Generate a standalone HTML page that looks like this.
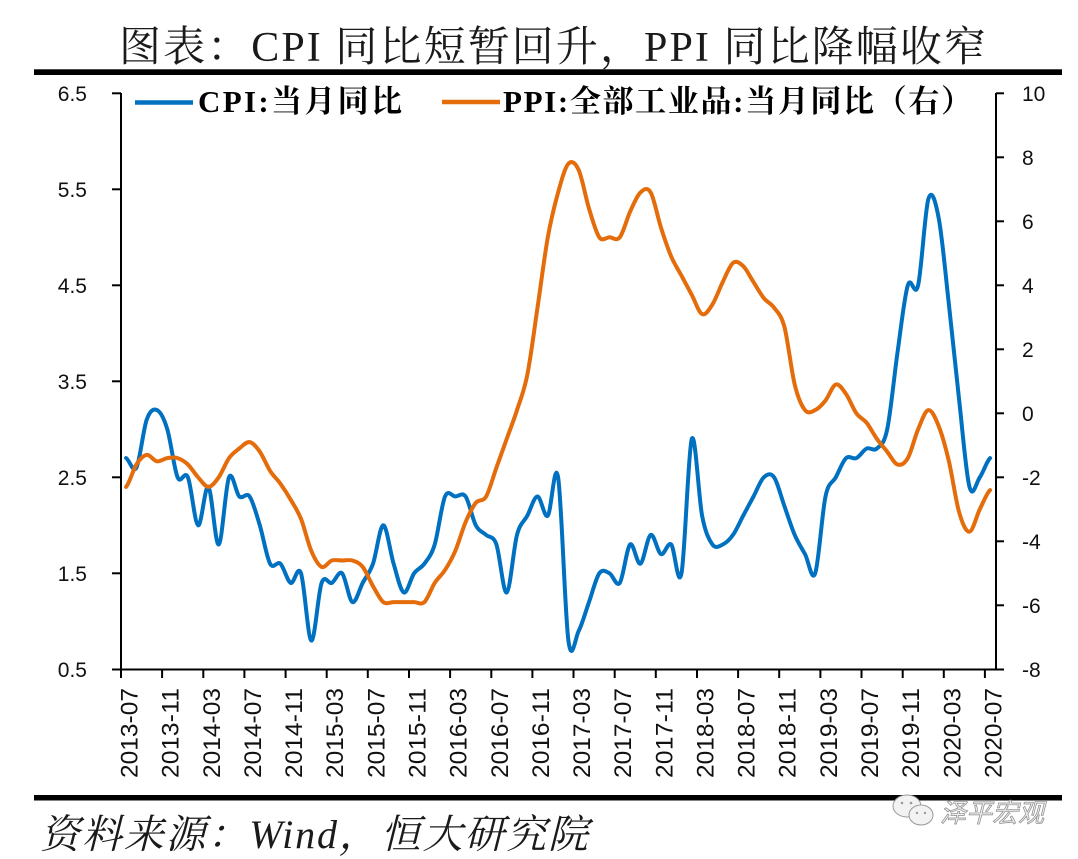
<!DOCTYPE html>
<html>
<head>
<meta charset="utf-8">
<style>
html,body{margin:0;padding:0;background:#fff;}
svg{display:block;}
.ax{font-family:"Liberation Sans","DejaVu Sans",sans-serif;font-size:21px;fill:#111;}
.xl{font-family:"Liberation Sans","DejaVu Sans",sans-serif;font-size:24.5px;fill:#111;}
</style>
</head>
<body>
<svg width="1078" height="859" viewBox="0 0 1078 859" xmlns="http://www.w3.org/2000/svg">
<rect x="0" y="0" width="1078" height="859" fill="#fff"/>

<!-- Title -->
<text x="119" y="61" font-family="'Liberation Serif','Noto Serif CJK SC',serif" font-size="42" fill="#1a1a1a" textLength="867">图表：CPI 同比短暂回升，PPI 同比降幅收窄</text>
<rect x="34" y="69.3" width="1028" height="5.7" fill="#000"/>

<!-- Legend -->
<line x1="135" y1="102.5" x2="193" y2="102.5" stroke="#0070C0" stroke-width="4.5"/>
<text x="198" y="112" font-family="'Liberation Serif','Noto Serif CJK SC',serif" font-size="31" font-weight="bold" fill="#000" textLength="204">CPI:当月同比</text>
<line x1="442" y1="102" x2="500" y2="102" stroke="#E46C0A" stroke-width="4.5"/>
<text x="503" y="112" font-family="'Liberation Serif','Noto Serif CJK SC',serif" font-size="31" font-weight="bold" fill="#000" textLength="469">PPI:全部工业品:当月同比（右）</text>

<!-- Axes -->
<g stroke="#000" stroke-width="2" fill="none">
<line x1="121" y1="93" x2="121" y2="670"/>
<line x1="996" y1="93" x2="996" y2="670"/>
<line x1="112" y1="669.5" x2="1004" y2="669.5"/>
<!-- left ticks -->
<line x1="112" y1="93.3" x2="121" y2="93.3"/>
<line x1="112" y1="189.3" x2="121" y2="189.3"/>
<line x1="112" y1="285.3" x2="121" y2="285.3"/>
<line x1="112" y1="381.3" x2="121" y2="381.3"/>
<line x1="112" y1="477.3" x2="121" y2="477.3"/>
<line x1="112" y1="573.3" x2="121" y2="573.3"/>
<!-- right ticks -->
<line x1="996" y1="93.3" x2="1004" y2="93.3"/>
<line x1="996" y1="157.3" x2="1004" y2="157.3"/>
<line x1="996" y1="221.3" x2="1004" y2="221.3"/>
<line x1="996" y1="285.3" x2="1004" y2="285.3"/>
<line x1="996" y1="349.3" x2="1004" y2="349.3"/>
<line x1="996" y1="413.3" x2="1004" y2="413.3"/>
<line x1="996" y1="477.3" x2="1004" y2="477.3"/>
<line x1="996" y1="541.3" x2="1004" y2="541.3"/>
<line x1="996" y1="605.3" x2="1004" y2="605.3"/>
<!-- x ticks -->
<line x1="121" y1="669" x2="121" y2="678"/>
<line x1="162.1" y1="669" x2="162.1" y2="678"/>
<line x1="203.3" y1="669" x2="203.3" y2="678"/>
<line x1="244.4" y1="669" x2="244.4" y2="678"/>
<line x1="285.6" y1="669" x2="285.6" y2="678"/>
<line x1="326.7" y1="669" x2="326.7" y2="678"/>
<line x1="367.8" y1="669" x2="367.8" y2="678"/>
<line x1="409" y1="669" x2="409" y2="678"/>
<line x1="450.1" y1="669" x2="450.1" y2="678"/>
<line x1="491.3" y1="669" x2="491.3" y2="678"/>
<line x1="532.4" y1="669" x2="532.4" y2="678"/>
<line x1="573.5" y1="669" x2="573.5" y2="678"/>
<line x1="614.7" y1="669" x2="614.7" y2="678"/>
<line x1="655.8" y1="669" x2="655.8" y2="678"/>
<line x1="697" y1="669" x2="697" y2="678"/>
<line x1="738.1" y1="669" x2="738.1" y2="678"/>
<line x1="779.2" y1="669" x2="779.2" y2="678"/>
<line x1="820.4" y1="669" x2="820.4" y2="678"/>
<line x1="861.5" y1="669" x2="861.5" y2="678"/>
<line x1="902.7" y1="669" x2="902.7" y2="678"/>
<line x1="943.8" y1="669" x2="943.8" y2="678"/>
<line x1="984.9" y1="669" x2="984.9" y2="678"/>
</g>

<!-- Left labels -->
<g class="ax" text-anchor="end">
<text x="87" y="101">6.5</text>
<text x="87" y="197">5.5</text>
<text x="87" y="293">4.5</text>
<text x="87" y="389">3.5</text>
<text x="87" y="485">2.5</text>
<text x="87" y="581">1.5</text>
<text x="87" y="677">0.5</text>
</g>
<!-- Right labels -->
<g class="ax" text-anchor="start">
<text x="1022" y="101">10</text>
<text x="1022" y="165">8</text>
<text x="1022" y="229">6</text>
<text x="1022" y="293">4</text>
<text x="1022" y="357">2</text>
<text x="1022" y="421">0</text>
<text x="1022" y="485">-2</text>
<text x="1022" y="549">-4</text>
<text x="1022" y="613">-6</text>
<text x="1022" y="677">-8</text>
</g>

<!-- X labels -->
<g class="xl">
<text transform="translate(137.5,778) rotate(-90)" textLength="90">2013-07</text>
<text transform="translate(178.6,778) rotate(-90)" textLength="90">2013-11</text>
<text transform="translate(219.8,778) rotate(-90)" textLength="90">2014-03</text>
<text transform="translate(260.9,778) rotate(-90)" textLength="90">2014-07</text>
<text transform="translate(302.1,778) rotate(-90)" textLength="90">2014-11</text>
<text transform="translate(343.2,778) rotate(-90)" textLength="90">2015-03</text>
<text transform="translate(384.3,778) rotate(-90)" textLength="90">2015-07</text>
<text transform="translate(425.5,778) rotate(-90)" textLength="90">2015-11</text>
<text transform="translate(466.6,778) rotate(-90)" textLength="90">2016-03</text>
<text transform="translate(507.8,778) rotate(-90)" textLength="90">2016-07</text>
<text transform="translate(548.9,778) rotate(-90)" textLength="90">2016-11</text>
<text transform="translate(590,778) rotate(-90)" textLength="90">2017-03</text>
<text transform="translate(631.2,778) rotate(-90)" textLength="90">2017-07</text>
<text transform="translate(672.3,778) rotate(-90)" textLength="90">2017-11</text>
<text transform="translate(713.5,778) rotate(-90)" textLength="90">2018-03</text>
<text transform="translate(754.6,778) rotate(-90)" textLength="90">2018-07</text>
<text transform="translate(795.7,778) rotate(-90)" textLength="90">2018-11</text>
<text transform="translate(836.9,778) rotate(-90)" textLength="90">2019-03</text>
<text transform="translate(878,778) rotate(-90)" textLength="90">2019-07</text>
<text transform="translate(919.2,778) rotate(-90)" textLength="90">2019-11</text>
<text transform="translate(960.3,778) rotate(-90)" textLength="90">2020-03</text>
<text transform="translate(1001.4,778) rotate(-90)" textLength="90">2020-07</text>
</g>

<!-- CPI series -->
<path fill="none" stroke="#0070C0" stroke-width="4" stroke-linejoin="round" stroke-linecap="round" d="M126.1,458.1 C129.5,459.7 133.0,474.1 136.4,467.7
S143.3,429.3 146.7,419.7 S153.6,408.5 157.0,410.1 S163.9,418.1 167.3,429.3 S174.2,469.3 177.6,477.3
S184.5,469.3 187.9,477.3 S194.7,523.7 198.1,525.3 S205.0,483.7 208.4,486.9 S215.3,546.1 218.7,544.5
S225.6,485.3 229.0,477.3 S235.9,493.3 239.3,496.5 S246.2,491.7 249.6,496.5 S256.4,514.1 259.8,525.3
S266.7,557.3 270.1,563.7 S277.0,560.5 280.4,563.7 S287.3,581.3 290.7,582.9 S297.6,563.7 301.0,573.3
S307.9,638.9 311.3,640.5 S318.2,592.5 321.6,582.9 S328.4,584.5 331.8,582.9 S338.7,570.1 342.1,573.3
S349.0,600.5 352.4,602.1 S359.3,589.3 362.7,582.9 S369.6,573.3 373.0,563.7 S379.9,525.3 383.3,525.3
S390.2,552.5 393.6,563.7 S400.4,590.9 403.8,592.5 S410.7,578.1 414.1,573.3 S421.0,568.5 424.4,563.7
S431.3,555.7 434.7,544.5 S441.6,504.5 445.0,496.5 S451.9,496.5 455.3,496.5 S462.2,491.7 465.6,496.5
S472.4,518.9 475.8,525.3 S482.7,531.7 486.1,534.9 S493.0,534.9 496.4,544.5 S503.3,594.1 506.7,592.5
S513.6,547.7 517.0,534.9 S523.9,522.1 527.3,515.7 S534.1,496.5 537.5,496.5 S544.4,518.9 547.8,515.7
S554.7,456.5 558.1,477.3 S565.0,614.9 568.4,640.5 S575.3,637.3 578.7,630.9 S585.6,611.7 589.0,602.1
S595.9,578.1 599.3,573.3 S606.1,571.7 609.5,573.3 S616.4,587.7 619.8,582.9 S626.7,547.7 630.1,544.5
S637.0,565.3 640.4,563.7 S647.3,536.5 650.7,534.9 S657.6,552.5 661.0,554.1 S667.8,541.3 671.2,544.5
S678.1,590.9 681.5,573.3 S688.4,448.5 691.8,438.9 S698.7,498.1 702.1,515.7 S709.0,539.7 712.4,544.5
S719.3,546.1 722.7,544.5 S729.6,539.7 733.0,534.9 S739.8,522.1 743.2,515.7 S750.1,502.9 753.5,496.5
S760.4,480.5 763.8,477.3 S770.7,472.5 774.1,477.3 S781.0,496.5 784.4,506.1 S791.3,526.9 794.7,534.9
S801.5,547.7 805.0,554.1 S811.8,582.9 815.2,573.3 S822.1,512.5 825.5,496.5 S832.4,483.7 835.8,477.3
S842.7,461.3 846.1,458.1 S853.0,459.7 856.4,458.1 S863.3,450.1 866.7,448.5 S873.5,451.7 876.9,448.5
S883.8,445.3 887.2,429.3 S894.1,376.5 897.5,352.5 S904.4,296.5 907.8,285.3 S914.7,299.7 918.1,285.3
S925.0,210.1 928.4,198.9 S935.3,200.5 938.7,218.1 S945.5,274.1 948.9,304.5 S955.8,370.1 959.2,400.5
S966.1,474.1 969.5,486.9 S976.4,482.1 979.8,477.3 S986.7,461.3 990.1,458.1"/>

<!-- PPI series -->
<path fill="none" stroke="#E46C0A" stroke-width="4" stroke-linejoin="round" stroke-linecap="round" d="M126.1,486.9 C129.5,483.2 133.0,469.8 136.4,464.5
S143.3,455.4 146.7,454.9 S153.6,460.8 157.0,461.3 S163.9,458.6 167.3,458.1 S174.2,457.0 177.6,458.1
S184.5,461.3 187.9,464.5 S194.7,473.6 198.1,477.3 S205.0,486.9 208.4,486.9 S215.3,482.1 218.7,477.3
S225.6,462.9 229.0,458.1 S235.9,451.2 239.3,448.5 S246.2,441.6 249.6,442.1 S256.4,446.9 259.8,451.7
S266.7,465.6 270.1,470.9 S277.0,478.9 280.4,483.7 S287.3,493.8 290.7,499.7 S297.6,510.4 301.0,518.9
S307.9,542.9 311.3,550.9 S318.2,565.3 321.6,566.9 S328.4,561.6 331.8,560.5 S338.7,560.5 342.1,560.5
S349.0,559.4 352.4,560.5 S359.3,562.6 362.7,566.9 S369.6,580.2 373.0,586.1 S379.9,599.4 383.3,602.1
S390.2,602.1 393.6,602.1 S400.4,602.1 403.8,602.1 S410.7,602.1 414.1,602.1 S421.0,605.3 424.4,602.1
S431.3,588.2 434.7,582.9 S441.6,575.4 445.0,570.1 S451.9,558.9 455.3,550.9 S462.2,530.1 465.6,522.1
S472.4,507.2 475.8,502.9 S482.7,502.4 486.1,496.5 S493.0,477.3 496.4,467.7 S503.3,448.5 506.7,438.9
S513.6,420.8 517.0,410.1 S523.9,392.0 527.3,374.9 S534.1,330.6 537.5,307.7 S544.4,256.5 547.8,237.3
S554.7,204.8 558.1,192.5 S565.0,167.4 568.4,163.7 S575.3,162.6 578.7,170.1 S585.6,197.3 589.0,208.5
S595.9,232.5 599.3,237.3 S606.1,237.3 609.5,237.3 S616.4,241.6 619.8,237.3 S626.7,219.2 630.1,211.7
S637.0,195.7 640.4,192.5 S647.3,186.6 650.7,192.5 S657.6,217.0 661.0,227.7 S667.8,248.5 671.2,256.5
S678.1,269.3 681.5,275.7 S688.4,288.5 691.8,294.9 S698.7,312.5 702.1,314.1 S709.0,309.8 712.4,304.5
S719.3,289.0 722.7,282.1 S729.6,265.6 733.0,262.9 S739.8,262.9 743.2,266.1 S750.1,276.8 753.5,282.1
S760.4,293.8 763.8,298.1 S770.7,302.9 774.1,307.7 S781.0,314.1 784.4,326.9 S791.3,370.6 794.7,384.5
S801.5,405.8 805.0,410.1 S811.8,411.7 815.2,410.1 S822.1,404.8 825.5,400.5 S832.4,385.6 835.8,384.5
S842.7,389.3 846.1,394.1 S853.0,408.5 856.4,413.3 S863.3,418.6 866.7,422.9 S873.5,434.1 876.9,438.9
S883.8,447.4 887.2,451.7 S894.1,463.4 897.5,464.5 S904.4,464.0 907.8,458.1 S914.7,437.3 918.1,429.3
S925.0,410.6 928.4,410.1 S935.3,417.6 938.7,426.1 S945.5,446.9 948.9,461.3 S955.8,500.8 959.2,512.5
S966.1,532.2 969.5,531.7 S976.4,516.2 979.8,509.3 S986.7,493.3 990.1,490.1"/>

<!-- Bottom rule -->
<rect x="34" y="795" width="1028" height="5.5" fill="#000"/>

<!-- Source -->
<text x="40" y="848" font-family="'Liberation Serif','Noto Serif CJK SC',serif" font-size="40" font-style="italic" fill="#1a1a1a" textLength="548">资料来源：Wind，恒大研究院</text>

<!-- Watermark -->
<g fill="#f2f2f2" stroke="#9a9a9a" stroke-width="1">
<ellipse cx="907" cy="806" rx="14" ry="11"/>
<ellipse cx="921" cy="815" rx="12" ry="10"/>
</g>
<g fill="#9a9a9a">
<circle cx="902" cy="803" r="1.3"/>
<circle cx="911" cy="803" r="1.3"/>
<circle cx="917" cy="813" r="1.2"/>
<circle cx="925" cy="813" r="1.2"/>
</g>
<text x="940" y="822" font-family="'Noto Sans CJK SC','WenQuanYi Zen Hei',sans-serif" font-size="26" font-style="italic" fill="#eeeeee" stroke="#8a8a8a" stroke-width="0.7" textLength="104">泽平宏观</text>
</svg>
</body>
</html>
